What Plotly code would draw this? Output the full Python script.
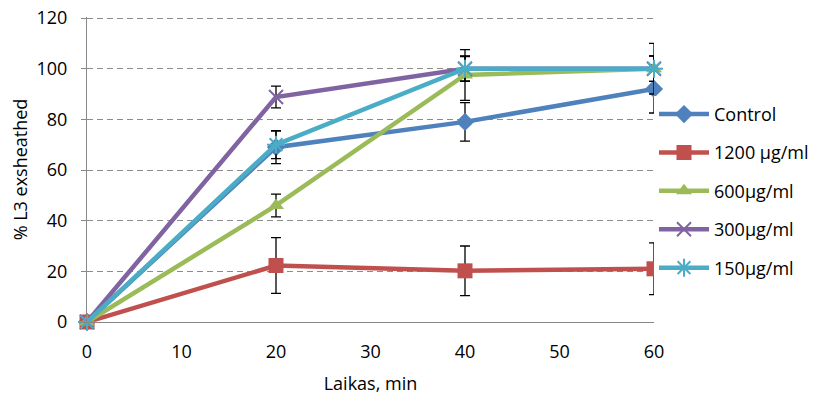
import plotly.graph_objects as go

times = [0, 20, 40, 60]
series_names = ["Control", "1200 µg/ml", "600µg/ml", "300µg/ml", "150µg/ml"]
control = [0, 69, 79, 92]
control_err = [0, 6.5, 7.6, 9.5]
c1200 = [0, 22.3, 20.2, 21]
c1200_err = [0, 11, 9.8, 10.2]
c600 = [0, 46, 97.5, 100]
c600_err = [0, 4.5, 10, 10]
c300 = [0, 88.8, 100, 100]
c300_err = [0, 4.3, 4.8, 5]
c150 = [0, 70, 100, 100]
c150_err = [0, 5.5, 5, 5]
y_ticks = [0, 20, 40, 60, 80, 100, 120]
x_ticks = [0, 10, 20, 30, 40, 50, 60]

colors = ["#4F81BD", "#C0504D", "#9BBB59", "#8064A2", "#4BACC6"]
symbols = ["diamond", "square", "triangle-up", "x-thin-open", "asterisk-open"]
sizes = [14, 15, 14, 14, 15]
values = [control, c1200, c600, c300, c150]
errors = [control_err, c1200_err, c600_err, c300_err, c150_err]

fig = go.Figure()
for i, name in enumerate(series_names):
    marker = dict(symbol=symbols[i], size=sizes[i], color=colors[i])
    if "open" in symbols[i]:
        marker["line"] = dict(color=colors[i], width=2)
    fig.add_trace(go.Scatter(
        x=times, y=values[i], name=name, mode="lines+markers",
        line=dict(color=colors[i], width=4.5),
        marker=marker,
        error_y=dict(type="data", array=errors[i], color="black", thickness=1.3, width=5),
        cliponaxis=False, legendgroup=name,
    ))

font = "Open Sans, sans-serif"
# page body has an 8px default margin, so the figure is 8px smaller than the window
fig.update_layout(
    width=816, height=388,
    margin=dict(l=79, r=170, t=9, b=74, autoexpand=False),
    paper_bgcolor="white", plot_bgcolor="white",
    font=dict(family=font, size=18, color="black"),
    showlegend=True,
    legend=dict(x=1.0, xanchor="left", y=0.43, yanchor="middle",
                tracegroupgap=12, itemwidth=50, font=dict(size=18)),
    xaxis=dict(range=[0, 60], tickvals=x_ticks,
               showgrid=False, showline=True, linecolor="#888888", linewidth=1.2,
               ticks="", ticklabelstandoff=13, zeroline=False, automargin=False,
               title=dict(text="Laikas, min", font=dict(size=18), standoff=15)),
    yaxis=dict(range=[0, 120.4], tickvals=y_ticks,
               showgrid=True, gridcolor="#8c8c8c", griddash="6px,4px", gridwidth=1,
               showline=True, linecolor="#888888", linewidth=1.2,
               ticks="outside", ticklen=5, tickcolor="#888888", ticklabelstandoff=10,
               ticklabeloverflow="allow",
               zeroline=False, automargin=False,
               title=dict(text="% L3 exsheathed", font=dict(size=18), standoff=16)),
)

fig.write_html("out.html")
